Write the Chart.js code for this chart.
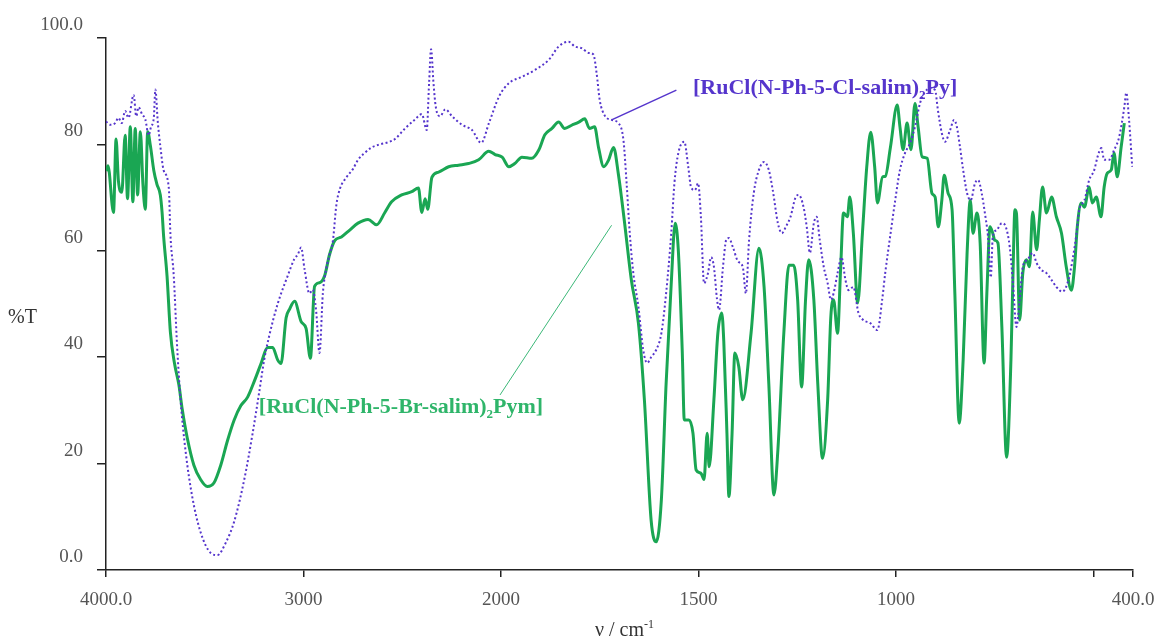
<!DOCTYPE html>
<html>
<head>
<meta charset="utf-8">
<script src="https://cdn.jsdelivr.net/npm/chart.js@4.4.1/dist/chart.umd.min.js"></script>
<style>
    html, body { margin: 0; padding: 0; background: #ffffff; }
    #wrap { width: 1155px; height: 637px; position: relative; }
</style>
</head>
<body>
<div id="wrap"><canvas id="irChart" width="1155" height="637"></canvas></div>
<script>
// wavenumbers (cm-1) and %T
const greenWn = [4000, 3990, 3962, 3949, 3937, 3920, 3903, 3891, 3877, 3864, 3852, 3840, 3826, 3813, 3801, 3789, 3775, 3758, 3742, 3725, 3716, 3708, 3691, 3674, 3653, 3631, 3614, 3589, 3555, 3521, 3487, 3453, 3419, 3385, 3351, 3317, 3283, 3249, 3215, 3182, 3156, 3131, 3114, 3088, 3071, 3045, 3012, 2987, 2965, 2944, 2919, 2893, 2868, 2842, 2808, 2766, 2724, 2673, 2630, 2588, 2554, 2503, 2452, 2418, 2401, 2384, 2371, 2350, 2316, 2265, 2215, 2164, 2113, 2062, 2030, 1997, 1980, 1965, 1947, 1922, 1904, 1889, 1871, 1854, 1839, 1821, 1803, 1788, 1776, 1763, 1753, 1740, 1728, 1715, 1703, 1688, 1670, 1652, 1637, 1620, 1607, 1594, 1582, 1569, 1559, 1551, 1541, 1536, 1524, 1514, 1506, 1494, 1486, 1478, 1473, 1461, 1451, 1441, 1436, 1428, 1423, 1415, 1408, 1398, 1388, 1367, 1347, 1334, 1322, 1309, 1299, 1284, 1271, 1259, 1249, 1239, 1229, 1221, 1208, 1198, 1186, 1173, 1165, 1158, 1148, 1140, 1133, 1123, 1117, 1108, 1097, 1085, 1074, 1064, 1054, 1047, 1034, 1027, 1014, 997, 990, 982, 972, 962, 952, 944, 934, 921, 909, 901, 893, 884, 878, 868, 858, 851, 840, 830, 820, 812, 805, 795, 787, 777, 770, 762, 755, 750, 742, 732, 720, 709, 704, 699, 695, 687, 679, 670, 662, 654, 644, 637, 629, 619, 606, 594, 581, 569, 556, 548, 541, 531, 523, 511, 503, 493, 481, 473, 465, 455, 448, 440, 430, 422];
const greenT = [75, 76, 67.2, 81, 73.1, 71, 81.7, 69.8, 83.3, 69.2, 83, 70.5, 82.4, 72.5, 67.8, 82.4, 79.7, 75.1, 72.5, 70.5, 67.2, 62.6, 55.3, 44.7, 38.8, 34.8, 30.2, 24.9, 19.7, 17, 15.7, 16.4, 19.7, 24.3, 28.2, 30.9, 32.5, 35.5, 38.8, 41.8, 41.8, 39.5, 38.8, 47.4, 49, 50.5, 46.7, 45.4, 39.8, 53.3, 54, 55.3, 59.3, 61.9, 62.6, 63.9, 65.2, 65.9, 64.9, 67.2, 69.2, 70.5, 71.1, 71.8, 67.2, 69.8, 67.8, 73.8, 74.8, 75.8, 76.1, 76.4, 77.1, 78.7, 78.1, 77.6, 75.8, 76.4, 77.6, 77.4, 79, 81.8, 83, 84.2, 83, 83.6, 84.2, 84.8, 83, 83.3, 79.4, 75.8, 77, 79.4, 74.5, 65.8, 54.5, 46.3, 32, 9.4, 5.3, 13.2, 35, 53.9, 65.2, 60, 40.8, 28.2, 28.2, 25.7, 18.8, 18.2, 17, 25.7, 19.4, 32, 44.5, 48.3, 43, 25.7, 13.8, 25.7, 40.8, 38.2, 32, 44.5, 60.5, 53.2, 35, 14.1, 22.6, 44.5, 57.3, 57.3, 50.8, 34.4, 50.8, 58.3, 50.8, 35, 21, 32, 47.6, 50.8, 44.5, 57, 67.1, 66.4, 70.1, 63.3, 50.2, 63.3, 75.8, 82.3, 75.8, 69, 73.9, 74, 79.5, 87.4, 83.3, 79, 84, 79, 87.7, 83.3, 77.7, 77.4, 70.8, 70.1, 64.5, 69.5, 74.2, 70.8, 67.7, 52, 27.6, 39.5, 59.6, 69.5, 63.3, 67.1, 61.5, 38.9, 52, 64.5, 63.3, 62, 61.5, 45.7, 21.2, 39.5, 55, 67.7, 67, 47, 55.8, 58.3, 57, 67.3, 60.2, 65.8, 72, 67.1, 70.1, 66.4, 63.3, 57, 52.6, 57, 64.5, 69, 68.2, 72, 69, 70.1, 66.4, 72, 74.6, 75.2, 78.4, 73.9, 79.5, 84];

const blueWn = [4000, 3979, 3954, 3937, 3920, 3903, 3886, 3860, 3847, 3835, 3818, 3801, 3784, 3772, 3758, 3750, 3738, 3725, 3708, 3682, 3674, 3657, 3640, 3623, 3597, 3563, 3521, 3470, 3436, 3394, 3351, 3300, 3258, 3224, 3199, 3173, 3131, 3080, 3046, 3029, 3012, 2995, 2970, 2953, 2936, 2919, 2902, 2885, 2868, 2851, 2834, 2817, 2783, 2749, 2724, 2690, 2656, 2613, 2571, 2537, 2486, 2435, 2401, 2376, 2364, 2354, 2342, 2330, 2308, 2282, 2248, 2198, 2147, 2100, 2061, 2010, 1980, 1947, 1914, 1879, 1854, 1829, 1813, 1796, 1778, 1766, 1758, 1750, 1738, 1720, 1703, 1690, 1682, 1674, 1665, 1652, 1640, 1630, 1620, 1607, 1594, 1582, 1569, 1561, 1551, 1536, 1526, 1519, 1509, 1501, 1494, 1486, 1476, 1468, 1461, 1453, 1448, 1438, 1430, 1423, 1413, 1400, 1388, 1380, 1372, 1360, 1347, 1334, 1322, 1312, 1299, 1289, 1279, 1267, 1254, 1246, 1234, 1226, 1218, 1208, 1201, 1193, 1183, 1173, 1165, 1158, 1148, 1138, 1128, 1120, 1108, 1095, 1083, 1065, 1047, 1035, 1027, 1015, 1002, 990, 977, 964, 952, 939, 927, 914, 901, 894, 884, 876, 863, 853, 846, 838, 830, 820, 811, 800, 792, 783, 775, 767, 760, 755, 745, 732, 722, 712, 704, 695, 687, 679, 667, 654, 644, 632, 619, 606, 594, 579, 566, 553, 543, 536, 523, 511, 498, 490, 480, 473, 460, 448, 435, 422, 417, 410, 402];
const blueT = [84.3, 83.7, 84, 85, 84, 86.3, 85, 89.3, 85.3, 87, 85.7, 84.7, 81.7, 83.3, 85, 90.3, 84.3, 79.7, 75.1, 71.8, 63.2, 55.3, 42.1, 32.2, 22.3, 13.7, 7.1, 3.2, 2.8, 5.1, 9.1, 17, 25.6, 33.5, 39.5, 44.1, 50, 55.3, 58.5, 59.3, 60.6, 56.6, 52, 52.7, 48.7, 40.8, 52, 56.6, 59.3, 61.9, 68.5, 71.5, 73.8, 75.4, 77.1, 78.4, 79.4, 80, 80.4, 81, 83, 84.7, 85.7, 82.7, 91.6, 97.9, 91.6, 87, 85.3, 86.6, 85.3, 83.7, 82.7, 80.3, 84, 89, 91.5, 92.7, 94, 95.9, 98.4, 99.3, 98.4, 98.1, 97.2, 96.9, 93.4, 88.3, 85.5, 84.6, 84, 80.8, 72.7, 63.3, 55.8, 49.4, 41.4, 38.9, 40, 41.4, 44.5, 52, 63.3, 72.7, 78.4, 80.5, 75.8, 72, 71.4, 72.7, 66.4, 53.9, 55.8, 58.8, 57, 50.8, 48.9, 57, 62, 62.4, 60.7, 58, 57, 52, 62, 70.9, 75.2, 76.7, 75.2, 71.4, 65.2, 63.3, 64.5, 66.4, 70.1, 70.5, 68.2, 64.5, 59.6, 65.2, 66.4, 62, 57, 53.9, 50.8, 52, 55.8, 58.8, 54.5, 52.6, 53.2, 48.3, 47, 46.4, 45.1, 50.8, 56, 62.6, 69.5, 75.2, 78.4, 80.3, 83.3, 87.8, 89.8, 90.6, 90.2, 86.5, 82.1, 80.5, 82.7, 84.6, 83.3, 79.5, 75.2, 70.8, 69.5, 72.7, 73.3, 70.8, 67.1, 62.6, 55, 62.6, 63.9, 65.2, 64.5, 60.7, 54, 45.7, 50.8, 57, 58.3, 59.6, 57.7, 56.4, 55.8, 54.5, 53.2, 52.3, 53.9, 58.3, 63.3, 67.7, 69.5, 73.3, 75.2, 77.6, 79.3, 77.1, 77.1, 78.9, 81.4, 87, 89.7, 84.6, 75.8];

const xTickValues = [4000, 3000, 2000, 1500, 1000, 500, 400];
const xTickLabels = ['4000.0', '3000', '2000', '1500', '1000', '', '400.0'];
const yTickLabels = ['0.0', '20', '40', '60', '80', '100.0'];

// labels: [text before subscript, subscript, text after, anchor wavenumber, anchor %T]
const blueLabel = ['[RuCl(N-Ph-5-Cl-salim)', '2', 'Py]', 1514, 89.5];
const greenLabel = ['[RuCl(N-Ph-5-Br-salim)', '2', 'Pym]', 3226, 29.5];
// leader lines: [wn1, T1, wn2, T2]
const blueLeader = [1720, 84.6, 1556, 90.2];
const greenLeader = [1720, 64.8, 2005, 32.9];

const GREEN = '#1aa653';
const BLUE = '#5535cc';

// spectrometer axis: 4000-2000 at half the scale of 2000-400
function toPos(w) {
    return w >= 2000 ? 4000 - w : 2000 + (2000 - w) * 2;
}

function toPoints(wn, t) {
    return wn.map((w, i) => ({ x: toPos(w), y: t[i] }));
}

const serif = '"Liberation Serif", "Times New Roman", serif';

const labelPlugin = {
    id: 'labelPlugin',
    afterDraw(chart) {
        const { ctx, chartArea } = chart;
        const xs = chart.scales.x;
        const ys = chart.scales.y;
        const px = w => xs.getPixelForValue(toPos(w));
        const py = t => ys.getPixelForValue(t);
        ctx.save();

        // leader lines
        ctx.lineWidth = 1.5;
        ctx.strokeStyle = BLUE;
        ctx.beginPath();
        ctx.moveTo(px(blueLeader[0]), py(blueLeader[1]));
        ctx.lineTo(px(blueLeader[2]), py(blueLeader[3]));
        ctx.stroke();
        ctx.lineWidth = 1;
        ctx.strokeStyle = '#3cb878';
        ctx.beginPath();
        ctx.moveTo(px(greenLeader[0]), py(greenLeader[1]));
        ctx.lineTo(px(greenLeader[2]), py(greenLeader[3]));
        ctx.stroke();

        function chem(lbl, color) {
            let x = px(lbl[3]);
            const y = py(lbl[4]);
            ctx.fillStyle = color;
            ctx.textBaseline = 'alphabetic';
            ctx.textAlign = 'left';
            ctx.font = 'bold 22px ' + serif;
            ctx.fillText(lbl[0], x, y);
            x += ctx.measureText(lbl[0]).width;
            ctx.font = 'bold 13px ' + serif;
            ctx.fillText(lbl[1], x, y + 5);
            x += ctx.measureText(lbl[1]).width;
            ctx.font = 'bold 22px ' + serif;
            ctx.fillText(lbl[2], x, y);
        }
        chem(blueLabel, BLUE);
        chem(greenLabel, '#2fb56a');

        // axis titles
        ctx.fillStyle = '#333';
        ctx.font = '20px ' + serif;
        ctx.textAlign = 'left';
        ctx.textBaseline = 'middle';
        ctx.fillText('%T', 8, (chartArea.top + chartArea.bottom) / 2 + 14);

        ctx.textBaseline = 'alphabetic';
        const main = 'ν / cm';
        ctx.font = '20px ' + serif;
        const wMain = ctx.measureText(main).width;
        ctx.font = '12px ' + serif;
        const wSup = ctx.measureText('-1').width;
        let tx = (chartArea.left + chartArea.right) / 2 + 5 - (wMain + wSup) / 2;
        const ty = chartArea.bottom + 66;
        ctx.font = '20px ' + serif;
        ctx.fillText(main, tx, ty);
        ctx.font = '12px ' + serif;
        ctx.fillText('-1', tx + wMain, ty - 8);
        ctx.restore();
    }
};

const ctx = document.getElementById('irChart').getContext('2d');
new Chart(ctx, {
    type: 'line',
    data: {
        datasets: [{
            label: 'Cl-Py',
            data: toPoints(blueWn, blueT),
            borderColor: BLUE,
            borderWidth: 2,
            borderDash: [2, 2.5],
            pointRadius: 0,
            cubicInterpolationMode: 'monotone',
            fill: false
        }, {
            label: 'Br-Pym',
            data: toPoints(greenWn, greenT),
            borderColor: GREEN,
            borderWidth: 3,
            pointRadius: 0,
            cubicInterpolationMode: 'monotone',
            fill: false
        }]
    },
    options: {
        responsive: false,
        animation: false,
        devicePixelRatio: 1,
        layout: { padding: { top: 38, right: 22, left: 0, bottom: 0 } },
        plugins: {
            legend: { display: false },
            tooltip: { enabled: false }
        },
        scales: {
            x: {
                type: 'linear',
                min: 0,
                max: toPos(400),
                afterFit: scale => {
                    scale.height = 67;
                    scale.paddingLeft = 0;
                    scale.paddingRight = 0;
                },
                afterBuildTicks: scale => {
                    scale.ticks = xTickValues.map(w => ({ value: toPos(w) }));
                },
                border: { display: true, color: '#222', width: 1.5 },
                grid: { display: true, drawOnChartArea: false, drawTicks: true, tickLength: 7, color: '#222', lineWidth: 1.5 },
                ticks: {
                    autoSkip: false,
                    maxRotation: 0,
                    padding: 12,
                    color: '#555',
                    font: { family: serif, size: 19 },
                    callback: (value, index) => xTickLabels[index]
                }
            },
            y: {
                min: 0,
                max: 100,
                afterFit: scale => {
                    scale.width = 106;
                    scale.paddingTop = 0;
                    scale.paddingBottom = 0;
                },
                border: { display: true, color: '#222', width: 1.5 },
                grid: { display: true, drawOnChartArea: false, drawTicks: true, tickLength: 9, color: '#222', lineWidth: 1.5 },
                ticks: {
                    stepSize: 20,
                    padding: 14,
                    labelOffset: -13,
                    color: '#555',
                    font: { family: serif, size: 19 },
                    callback: (value, index) => yTickLabels[index]
                }
            }
        }
    },
    plugins: [labelPlugin]
});
</script>
</body>
</html>
